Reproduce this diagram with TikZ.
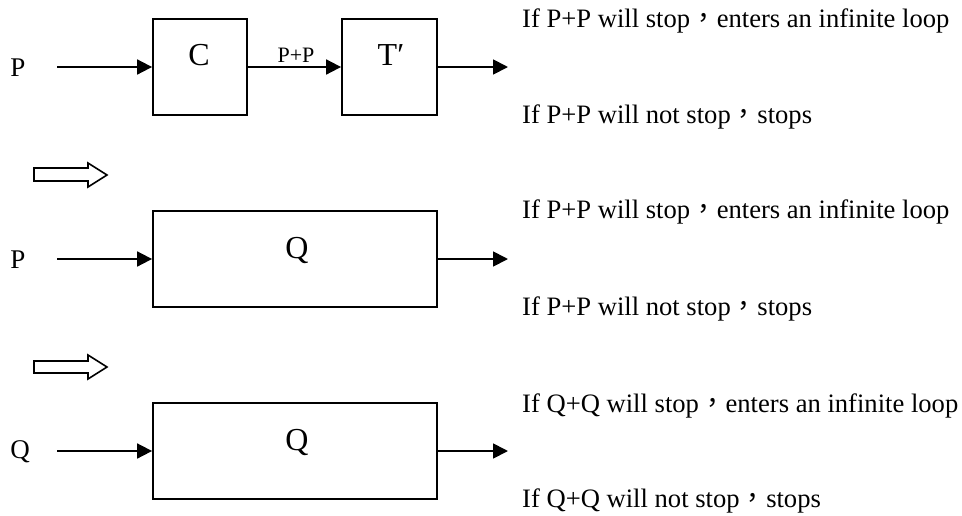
\documentclass[tikz,border=0pt]{standalone}
\usepackage{fontspec}
\setmainfont{Liberation Serif}
\newfontfamily\cjk{Noto Sans CJK TC}
\usetikzlibrary{arrows.meta}
\newcommand{\fc}{{\cjk ，}}
\begin{document}
\begin{tikzpicture}[x=1pt,y=-1pt,
  box/.style={draw,line width=1.8pt,minimum width=#1,minimum height=96pt,inner sep=0pt},
  flow/.style={line width=1.8pt,-{Triangle[length=15pt,width=15pt]}},
  boxlabel/.style={anchor=base,inner sep=0pt,font=\fontsize{32}{36}\selectfont},
  inlabel/.style={anchor=base,inner sep=0pt,font=\fontsize{27}{30}\selectfont},
  edgelabel/.style={anchor=base,inner sep=0pt,font=\fontsize{22}{26}\selectfont},
  cond/.style={anchor=base west,inner sep=0pt,font=\fontsize{26.6}{30}\selectfont},
  bigarrow/.style={draw,line width=1.6pt,fill=white,line join=miter}
]
\useasboundingbox (0,0) rectangle (962,515);

% ---------- row 1 ----------
\node[box=94pt] (C) at (200,67) {};
\node[box=95pt] (T) at (389.5,67) {};
\node[boxlabel] (Cl) at (199,65) {C};
\node[boxlabel] (Tl) at (391,65) {T′};
\node[inlabel] (P1) at (18,76) {P};
\coordinate (in1) at (57,67);
\coordinate (out1) at (508,67);
\draw[flow] (in1) -- (C.west);
\draw[flow] (C.east) -- (T.west);
\node[edgelabel] (PP) at (296,62) {P+P};
\draw[flow] (T.east) -- (out1);
\node[cond] (c1a) at (522,27) {If P+P will stop\fc enters an infinite loop};
\node[cond] (c1b) at (522,123) {If P+P will not stop\fc stops};

% big arrow 1
\draw[bigarrow] (34,168) -- (88,168) -- (88,163) -- (107,175) -- (88,187) -- (88,181) -- (34,181) -- cycle;

% ---------- row 2 ----------
\node[box=284pt] (Q1) at (295,259) {};
\node[boxlabel] (Q1l) at (297,258) {Q};
\node[inlabel] (P2) at (18,268) {P};
\coordinate (in2) at (57,259);
\coordinate (out2) at (508,259);
\draw[flow] (in2) -- (Q1.west);
\draw[flow] (Q1.east) -- (out2);
\node[cond] (c2a) at (522,218) {If P+P will stop\fc enters an infinite loop};
\node[cond] (c2b) at (522,315) {If P+P will not stop\fc stops};

% big arrow 2
\draw[bigarrow] (34,361) -- (88,361) -- (88,355) -- (107,367) -- (88,379) -- (88,373) -- (34,373) -- cycle;

% ---------- row 3 ----------
\node[box=284pt] (Q2) at (295,451) {};
\node[boxlabel] (Q2l) at (297,450) {Q};
\node[inlabel] (Q3) at (20,458) {Q};
\coordinate (in3) at (57,451);
\coordinate (out3) at (508,451);
\draw[flow] (in3) -- (Q2.west);
\draw[flow] (Q2.east) -- (out3);
\node[cond] (c3a) at (522,412) {If Q+Q will stop\fc enters an infinite loop};
\node[cond] (c3b) at (522,507) {If Q+Q will not stop\fc stops};
\end{tikzpicture}
\end{document}
